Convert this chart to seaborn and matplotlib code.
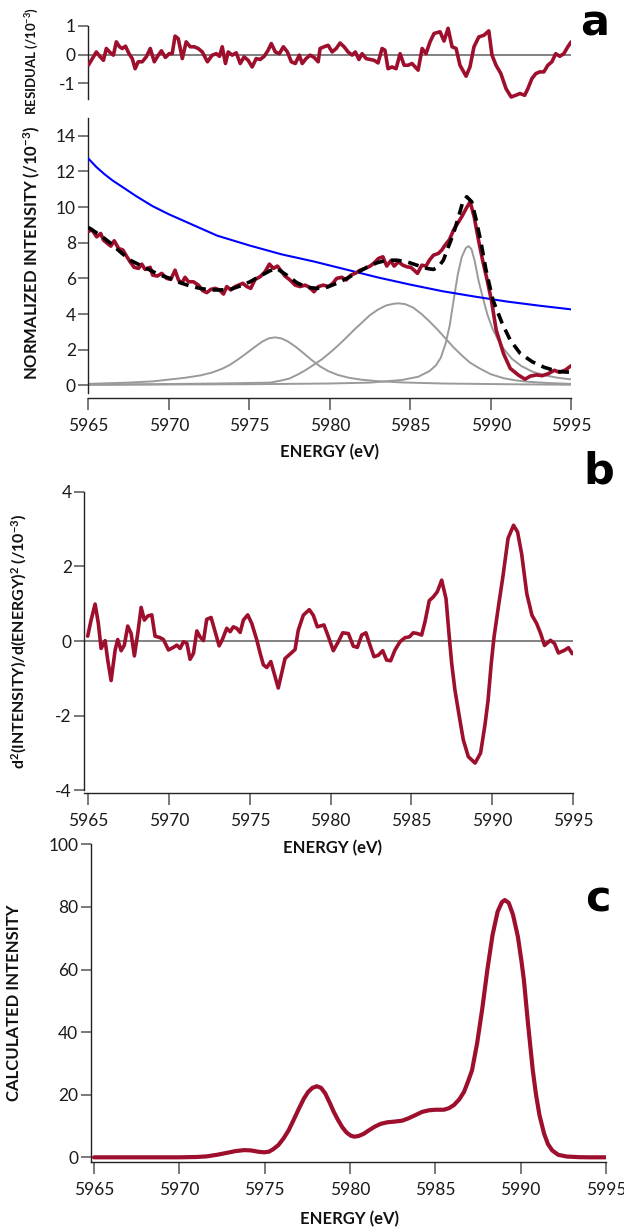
import matplotlib
matplotlib.use("Agg")
import matplotlib.pyplot as plt
import seaborn as sns

# ---------------- data ----------------
res_E = [5965.00,5965.25,5965.50,5965.74,5965.94,5966.12,5966.37,5966.56,5966.74,5966.94,
         5967.11,5967.31,5967.53,5967.73,5967.91,5968.10,5968.35,5968.60,5968.85,5969.10,
         5969.35,5969.54,5969.79,5970.02,5970.21,5970.39,5970.59,5970.84,5971.08,5971.33,
         5971.58,5971.83,5972.08,5972.40,5972.70,5972.95,5973.15,5973.32,5973.52,5973.69,
         5973.94,5974.19,5974.44,5974.68,5974.93,5975.18,5975.43,5975.68,5975.93,5976.17,
         5976.37,5976.62,5976.87,5977.12,5977.37,5977.61,5977.86,5978.11,5978.29,5978.53,
         5978.78,5979.03,5979.28,5979.40,5979.65,5979.90,5980.15,5980.40,5980.64,5980.89,
         5981.14,5981.39,5981.59,5981.81,5982.01,5982.26,5982.51,5982.76,5983.00,5983.25,
         5983.43,5983.62,5983.87,5984.12,5984.37,5984.62,5984.87,5985.11,5985.49,5985.74,
         5985.98,5986.23,5986.48,5986.85,5987.10,5987.35,5987.60,5987.85,5988.09,5988.47,
         5988.71,5988.96,5989.26,5989.58,5989.88,5990.08,5990.33,5990.63,5990.95,5991.27,
         5991.56,5991.81,5992.11,5992.31,5992.56,5992.80,5993.05,5993.30,5993.55,5993.80,
         5994.04,5994.29,5994.54,5994.79,5995.00]
res_V = [-0.37,-0.14,0.09,-0.08,-0.20,0.21,0.06,-0.02,0.44,0.27,
         0.21,0.29,0.03,-0.14,-0.49,-0.25,-0.25,-0.08,0.21,-0.25,
         -0.02,0.13,-0.10,0.03,0.03,0.64,0.55,-0.14,0.44,0.27,
         0.27,0.21,0.09,-0.25,-0.02,0.03,-0.06,0.27,-0.31,0.09,
         -0.02,0.06,-0.31,-0.08,-0.20,-0.43,-0.14,-0.17,-0.06,0.15,
         0.38,0.09,0.03,0.27,0.09,-0.25,-0.31,-0.02,-0.31,-0.14,
         -0.02,-0.10,-0.25,0.21,0.27,0.32,0.09,0.21,0.40,0.27,
         0.09,-0.02,0.09,-0.17,0.03,-0.14,-0.17,-0.20,-0.29,0.21,
         0.15,-0.49,-0.43,-0.49,0.03,-0.37,-0.37,-0.31,-0.54,0.21,
         0.03,0.44,0.73,0.79,0.47,0.91,0.27,0.21,-0.37,-0.75,
         -0.43,0.27,0.61,0.67,0.82,-0.02,-0.37,-0.66,-1.18,-1.47,
         -1.41,-1.35,-1.41,-1.18,-0.83,-0.66,-0.60,-0.60,-0.37,-0.25,
         0.03,-0.06,0.03,0.27,0.44]

exp_E = [5965.0,5965.21,5965.52,5965.77,5965.94,5966.19,5966.40,5966.61,5966.88,5967.15,
         5967.40,5967.60,5967.85,5968.12,5968.32,5968.53,5968.84,5969.00,5969.29,5969.56,
         5969.87,5970.12,5970.39,5970.60,5970.80,5971.01,5971.22,5971.53,5971.84,5972.11,
         5972.36,5972.61,5972.88,5973.15,5973.40,5973.60,5973.85,5974.12,5974.33,5974.60,
         5974.85,5975.09,5975.36,5975.67,5975.98,5976.25,5976.50,5976.75,5976.91,5977.22,
         5977.53,5977.85,5978.16,5978.47,5978.74,5979.02,5979.29,5979.60,5979.92,5980.19,
         5980.43,5980.75,5981.02,5981.31,5981.64,5981.89,5982.20,5982.51,5982.76,5983.03,
         5983.30,5983.54,5983.79,5984.00,5984.27,5984.54,5984.79,5985.03,5985.24,5985.45,
         5985.72,5985.98,5986.19,5986.44,5986.75,5986.96,5987.17,5987.44,5987.69,5987.94,
         5988.20,5988.51,5988.72,5988.97,5989.24,5989.50,5989.78,5990.04,5990.34,5990.79,
         5991.21,5991.71,5992.13,5992.45,5992.83,5993.20,5993.57,5993.95,5994.27,5994.61,
         5995.0]
exp_V = [8.62,8.75,8.33,8.52,8.15,7.96,7.81,8.11,7.68,7.59,
         7.21,6.93,6.62,6.56,6.80,6.50,6.62,6.18,6.13,6.28,
         6.00,5.94,6.46,5.91,5.72,6.06,5.81,5.81,5.62,5.31,
         5.20,5.38,5.44,5.35,5.12,5.54,5.35,5.54,5.62,5.72,
         5.54,5.44,5.94,6.09,6.37,6.80,6.56,6.69,6.50,6.13,
         5.91,5.62,5.54,5.62,5.50,5.25,5.54,5.62,5.54,5.72,
         6.00,6.06,5.91,6.18,6.31,6.46,6.56,6.69,6.87,7.12,
         7.21,6.69,6.99,6.69,6.93,6.74,6.65,6.62,6.46,6.28,
         6.74,6.69,7.02,7.30,7.40,7.59,7.87,8.18,8.71,9.08,
         9.46,9.98,10.30,9.46,8.15,7.00,5.90,4.78,3.10,1.79,
         0.95,0.58,0.34,0.51,0.58,0.54,0.65,0.84,0.73,0.84,
         1.10]

fit_E = [5965.0,5965.73,5966.35,5966.98,5967.6,5968.22,5968.84,5969.46,5970.08,5970.7,
         5971.32,5971.94,5972.57,5973.19,5973.81,5974.43,5975.05,5975.67,5976.29,5976.7,
         5977.33,5977.95,5978.57,5979.19,5979.81,5980.43,5981.06,5981.68,5982.3,5982.92,
         5983.54,5984.16,5984.79,5985.41,5986.03,5986.44,5986.75,5987.06,5987.37,5987.69,
         5988.0,5988.27,5988.51,5988.82,5989.1,5989.4,5989.7,5990.14,5990.71,5991.21,
         5991.83,5992.58,5993.32,5994.19,5995.0]
fit_V = [8.86,8.43,8.0,7.49,7.02,6.74,6.46,6.18,6.0,5.76,
         5.57,5.44,5.35,5.35,5.38,5.57,5.81,6.13,6.43,6.56,
         6.18,5.76,5.50,5.44,5.50,5.72,6.0,6.31,6.62,6.87,
         7.02,7.02,6.93,6.74,6.56,6.50,6.65,7.02,7.77,8.52,
         9.46,10.30,10.58,10.30,9.27,8.0,6.5,4.78,3.48,2.54,
         1.79,1.32,1.01,0.77,0.73]

bg_E = [5965,5965.5,5966,5966.5,5967,5968,5969,5970,5971.5,5973,5975,5977,5979,5981,5983,5985,5987,5989,5991,5993,5995]
bg_V = [12.73,12.25,11.85,11.5,11.2,10.6,10.05,9.6,9.0,8.4,7.85,7.35,6.95,6.5,6.05,5.65,5.28,4.98,4.7,4.47,4.26]

pk1_E = [5965,5967.5,5969,5970,5971,5972,5972.7,5973.3,5973.8,5974.3,5974.8,5975.3,5975.8,5976.2,
         5976.6,5977.0,5977.4,5977.9,5978.4,5978.9,5979.4,5979.9,5980.5,5981.2,5982,5983,5984.5,
         5987,5991,5995]
pk1_V = [0.08,0.15,0.22,0.32,0.42,0.56,0.72,0.92,1.15,1.45,1.78,2.12,2.45,2.63,
         2.69,2.63,2.46,2.15,1.78,1.40,1.06,0.80,0.58,0.42,0.31,0.23,0.16,
         0.10,0.06,0.03]

pk2_E = [5965,5970,5973,5976.3,5977,5977.5,5978,5978.5,5979,5979.5,5980,5980.5,5981,5981.5,
         5982,5982.5,5983,5983.5,5984,5984.3,5984.7,5985.2,5985.7,5986.2,5986.7,5987.2,5987.7,
         5988.2,5988.7,5989.3,5990,5990.8,5991.5,5992.3,5993.5,5995]
pk2_V = [0.03,0.07,0.10,0.15,0.27,0.38,0.60,0.85,1.15,1.45,1.82,2.22,2.65,3.10,
         3.52,3.94,4.25,4.48,4.58,4.60,4.55,4.35,4.00,3.58,3.12,2.62,2.12,
         1.68,1.28,0.95,0.62,0.40,0.28,0.20,0.13,0.08]

pk3_E = [5965,5975,5980,5982.5,5984.5,5985.5,5986.2,5986.6,5986.9,5987.2,5987.45,5987.7,5987.95,
         5988.2,5988.45,5988.62,5988.8,5989.0,5989.25,5989.5,5989.8,5990.1,5990.4,5990.8,5991.3,
         5991.9,5992.6,5993.3,5994.1,5995]
pk3_V = [0.03,0.06,0.10,0.15,0.30,0.48,0.80,1.12,1.55,2.35,3.35,4.80,6.20,
         7.20,7.70,7.81,7.65,7.00,5.85,4.95,3.95,3.20,2.65,2.05,1.50,
         1.08,0.76,0.57,0.43,0.33]

d2_E = [5964.96,5965.17,5965.42,5965.62,5965.79,5966.04,5966.2,5966.41,5966.66,5966.82,
        5967.03,5967.23,5967.44,5967.65,5967.85,5968.06,5968.27,5968.47,5968.68,5968.93,
        5969.13,5969.44,5969.65,5969.96,5970.27,5970.48,5970.68,5970.89,5971.1,5971.3,
        5971.51,5971.72,5971.92,5972.13,5972.33,5972.6,5972.85,5973.1,5973.3,5973.57,
        5973.78,5973.98,5974.19,5974.4,5974.6,5974.87,5975.12,5975.43,5975.64,5975.84,
        5976.05,5976.3,5976.76,5977.18,5977.49,5977.8,5978.0,5978.31,5978.68,5978.93,
        5979.18,5979.59,5979.86,5980.17,5980.48,5980.75,5981.1,5981.41,5981.66,5981.93,
        5982.19,5982.44,5982.69,5982.96,5983.23,5983.47,5983.72,5983.99,5984.3,5984.61,
        5984.88,5985.12,5985.37,5985.64,5985.85,5986.11,5986.36,5986.61,5986.88,5987.15,
        5987.35,5987.5,5987.7,5987.97,5988.22,5988.53,5988.95,5989.29,5989.56,5989.75,
        5989.95,5990.12,5990.42,5990.67,5990.99,5991.33,5991.58,5991.83,5992.15,5992.47,
        5992.76,5993.01,5993.25,5993.62,5993.87,5994.11,5994.48,5994.73,5994.97]
d2_V = [0.13,0.56,0.99,0.47,-0.20,0.01,-0.51,-1.06,-0.24,0.04,
        -0.26,-0.11,0.40,0.20,-0.40,0.20,0.90,0.56,0.67,0.70,
        0.13,0.09,0.04,-0.24,-0.17,-0.11,-0.20,-0.02,-0.06,-0.49,
        -0.33,0.27,0.11,0.01,0.58,0.63,0.25,-0.13,0.04,0.34,
        0.25,0.38,0.34,0.23,0.56,0.70,0.47,0.03,-0.33,-0.64,
        -0.71,-0.55,-1.26,-0.47,-0.35,-0.23,0.29,0.69,0.84,0.69,
        0.38,0.43,0.12,-0.26,-0.02,0.22,0.20,-0.14,-0.17,0.16,
        0.22,-0.11,-0.42,-0.38,-0.26,-0.51,-0.53,-0.24,-0.02,0.09,
        0.11,0.22,0.20,0.16,0.52,1.08,1.18,1.32,1.63,1.13,
        0.11,-0.60,-1.31,-2.02,-2.65,-3.10,-3.27,-3.00,-2.25,-1.60,
        -0.60,0.10,1.00,1.72,2.75,3.10,2.92,2.34,1.27,0.69,
        0.47,0.20,-0.12,0.02,-0.07,-0.32,-0.25,-0.18,-0.34]

calc_E = [5965,5970,5971,5971.6,5972.2,5972.85,5973.3,5973.8,5974.2,5974.6,
          5974.96,5975.25,5975.5,5975.8,5976.1,5976.4,5976.7,5977.0,5977.3,5977.55,
          5977.8,5978.05,5978.3,5978.55,5978.83,5979.05,5979.3,5979.55,5979.8,5980.05,
          5980.25,5980.5,5980.8,5981.1,5981.45,5981.8,5982.2,5982.6,5983.05,5983.4,
          5983.8,5984.22,5984.6,5985.0,5985.5,5985.8,5986.09,5986.4,5986.68,5986.9,
          5987.15,5987.45,5987.75,5988.05,5988.35,5988.65,5988.9,5989.07,5989.3,5989.55,
          5989.84,5990.05,5990.19,5990.43,5990.71,5990.9,5991.1,5991.37,5991.6,5991.85,
          5992.2,5992.7,5993.4,5994,5995]
calc_V = [0,0,0.1,0.3,0.8,1.5,2.0,2.3,2.2,1.8,
          1.6,1.8,2.6,3.9,6.0,8.6,12.0,15.5,18.8,20.9,
          22.2,22.7,22.2,20.4,17.2,14.5,11.9,9.6,7.9,6.9,
          6.6,6.8,7.5,8.6,9.8,10.7,11.2,11.4,11.7,12.4,
          13.4,14.5,15.0,15.2,15.2,15.7,16.7,18.5,20.9,24.0,
          27.8,36.5,47.5,60.0,71.0,78.5,81.5,82.2,81.3,77.5,
          70.4,62.5,56.6,42.7,27.8,20.0,13.5,7.6,4.2,2.2,
          0.8,0.25,0.05,0,0]

x_ticks = [5965, 5970, 5975, 5980, 5985, 5990, 5995]

# ---------------- style ----------------
sns.set_theme(style="ticks")
plt.rcParams.update({
    "font.family": ["Lato", "DejaVu Sans"],
    "axes.unicode_minus": False,
    "mathtext.fontset": "custom",
    "mathtext.rm": "Lato",
    "mathtext.bf": "Lato:bold",
    "mathtext.it": "Lato:italic",
})

RED = "#9E0E2D"
GRAY = "#9a9a9a"
ZERO = "#777777"
LABFONT = ["Lato", "DejaVu Sans"]

fig = plt.figure(figsize=(6.24, 12.30), dpi=100)
ax_r = fig.add_axes([0.14151, 0.91927, 0.77388, 0.05984])
ax_a = fig.add_axes([0.14151, 0.68024, 0.77388, 0.22382])
ax_b = fig.add_axes([0.13510, 0.35748, 0.78285, 0.24276])
ax_c = fig.add_axes([0.14551, 0.05553, 0.82564, 0.25805])


def draw(ax, x, y, **kw):
    sns.lineplot(x=x, y=y, ax=ax, estimator=None, sort=False, **kw)


def style(ax, bottom=True, offset=0):
    ax.patch.set_visible(False)
    for s in ("top", "right"):
        ax.spines[s].set_visible(False)
    ax.spines["left"].set_linewidth(1.0)
    ax.spines["left"].set_color("#222222")
    if bottom:
        ax.spines["bottom"].set_linewidth(1.0)
        ax.spines["bottom"].set_color("#222222")
        ax.spines["bottom"].set_position(("outward", offset))
        ax.set_xticks(x_ticks)
        ax.tick_params(axis="x", direction="out", length=8.5, width=1.1,
                       color="#555555", labelsize=12.5, pad=6, labelcolor="#1a1a1a")
    else:
        ax.spines["bottom"].set_visible(False)
        ax.tick_params(axis="x", bottom=False, labelbottom=False)
    ax.tick_params(axis="y", direction="out", length=7, width=1.1,
                   color="#555555", labelsize=12.5, pad=2, labelcolor="#1a1a1a")
    ax.grid(False)


def ylab(ax, text, x, y=0.5, size=12):
    ax.set_ylabel(text, fontsize=size, fontweight="bold", color="#111111",
                  fontfamily=LABFONT)
    ax.yaxis.label.set_va("center")
    ax.yaxis.label.set_ha("center")
    ax.yaxis.set_label_coords(x, y)


def xlab(ax, x, y):
    ax.set_xlabel("ENERGY (eV)", fontsize=12, fontweight="bold", color="#111111",
                  fontfamily=LABFONT)
    ax.xaxis.label.set_va("center")
    ax.xaxis.set_label_coords(x, y)


# ---- residual ----
ax_r.axhline(0, color=ZERO, lw=1.3, zorder=1)
draw(ax_r, res_E, res_V, color=RED, lw=2.6, zorder=3)
ax_r.set_xlim(5965, 5995)
ax_r.set_ylim(-1.55, 1.0)
ax_r.set_yticks([-1, 0, 1])
style(ax_r, bottom=False)
ylab(ax_r, r"RESIDUAL (/10$^{\mathbf{-3}}$)", -0.1166, 0.52, size=9.5)

# ---- panel a ----
for pe, pv in ((pk1_E, pk1_V), (pk2_E, pk2_V), (pk3_E, pk3_V)):
    draw(ax_a, pe, pv, color=GRAY, lw=1.4, zorder=2)
draw(ax_a, bg_E, bg_V, color="#0000ff", lw=1.5, zorder=3)
draw(ax_a, exp_E, exp_V, color=RED, lw=2.6, zorder=4)
draw(ax_a, fit_E, fit_V, color="black", lw=2.6, linestyle=(0, (3.0, 1.9)), zorder=5)
ax_a.set_xlim(5965, 5995)
ax_a.set_ylim(-0.45, 15)
ax_a.set_yticks(range(0, 15, 2))
style(ax_a, offset=3.6)
ylab(ax_a, r"NORMALIZED INTENSITY (/10$^{\mathbf{-3}}$)", -0.1166, 0.51, size=12)
xlab(ax_a, 0.5, -0.212)

# ---- panel b ----
ax_b.axhline(0, color=ZERO, lw=1.3, zorder=1)
draw(ax_b, d2_E, d2_V, color=RED, lw=2.6, zorder=3)
ax_b.set_xlim(5964.75, 5995)
ax_b.set_ylim(-4, 4)
ax_b.set_yticks([-4, -2, 0, 2, 4])
style(ax_b, offset=2.2)
ylab(ax_b, r"d$^{\mathbf{2}}$(INTENSITY)/d(ENERGY)$^{\mathbf{2}}$ (/10$^{\mathbf{-3}}$)", -0.1337, 0.5, size=11.5)
xlab(ax_b, 0.509, -0.193)

# ---- panel c ----
draw(ax_c, calc_E, calc_V, color=RED, lw=3.0, zorder=3)
ax_c.set_xlim(5964.81, 5995)
ax_c.set_ylim(-1.4, 100)
ax_c.set_yticks(range(0, 101, 20))
style(ax_c, offset=0)
ylab(ax_c, "CALCULATED INTENSITY", -0.149, 0.5, size=12)
xlab(ax_c, 0.503, -0.1805)

# panel letters
for txt, x, y in (("a", 595, 35), ("b", 599, 483), ("c", 598, 912)):
    fig.text(x / 624, 1 - y / 1230, txt, ha="center", va="baseline",
             fontsize=31, fontweight="bold", color="black", fontfamily="DejaVu Sans")

fig.savefig("out.png", dpi=100, facecolor="white")
